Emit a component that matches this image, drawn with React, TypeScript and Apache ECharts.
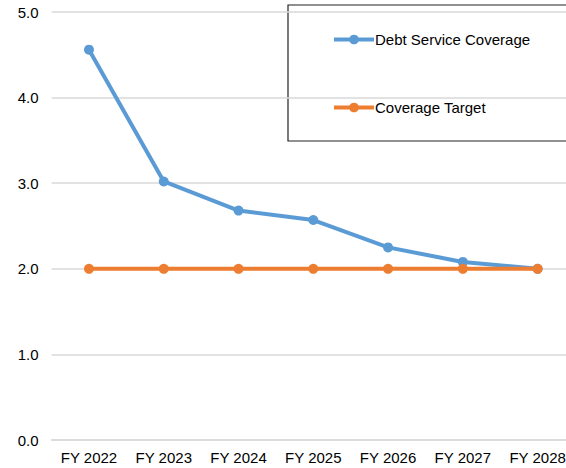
import React, { useEffect, useRef } from "react";
import * as echarts from "echarts";

const categories = ["FY 2022", "FY 2023", "FY 2024", "FY 2025", "FY 2026", "FY 2027", "FY 2028"];
const debtServiceCoverage = [4.56, 3.02, 2.68, 2.57, 2.25, 2.08, 2.0];
const coverageTarget = [2.0, 2.0, 2.0, 2.0, 2.0, 2.0, 2.0];

export default function App() {
  const ref = useRef<HTMLDivElement>(null);
  useEffect(() => {
    if (!ref.current) return;
    const chart = echarts.init(ref.current, null, { renderer: "svg" });
    const font = "Liberation Sans, Arial, sans-serif";
    chart.setOption({
      animation: false,
      textStyle: { fontFamily: font },
      grid: { left: 51.6, right: 0, top: 12, bottom: 28, containLabel: false },
      xAxis: {
        type: "category",
        data: categories,
        boundaryGap: true,
        axisLine: { show: true, lineStyle: { color: "#d9d9d9", width: 1.5 } },
        axisTick: { show: false },
        axisLabel: { color: "#000", fontSize: 15, margin: 10, fontFamily: font, interval: 0 },
      },
      yAxis: {
        type: "value",
        min: 0,
        max: 5,
        interval: 1,
        axisLine: { show: false },
        axisTick: { show: false },
        splitLine: { lineStyle: { color: "#d9d9d9", width: 1.5 } },
        axisLabel: {
          color: "#000",
          fontSize: 15,
          margin: 13,
          fontFamily: font,
          formatter: (v: number) => v.toFixed(1),
        },
      },
      legend: {
        orient: "vertical",
        left: 327,
        top: 27,
        itemGap: 53,
        itemWidth: 40,
        itemHeight: 12,
        textStyle: { color: "#000", fontSize: 15, fontFamily: font, padding: [0, 0, 0, -4] },
        lineStyle: { width: 4 },
        data: ["Debt Service Coverage", "Coverage Target"],
      },
      graphic: [
        {
          type: "rect",
          shape: { x: 288, y: 5, width: 300, height: 136 },
          style: { fill: "#fff", stroke: "#222", lineWidth: 1.2 },
          z: -1,
          silent: true,
        },
      ],
      series: [
        {
          name: "Debt Service Coverage",
          type: "line",
          data: debtServiceCoverage,
          symbol: "circle",
          symbolSize: 10,
          itemStyle: { color: "#5B9BD5" },
          lineStyle: { color: "#5B9BD5", width: 4 },
          z: 3,
        },
        {
          name: "Coverage Target",
          type: "line",
          data: coverageTarget,
          symbol: "circle",
          symbolSize: 10,
          itemStyle: { color: "#ED7D31" },
          lineStyle: { color: "#ED7D31", width: 4 },
          z: 4,
        },
      ],
    });
    return () => chart.dispose();
  }, []);
  return (
    <div style={{ position: "absolute", left: 0, top: 0, width: 566, height: 468, overflow: "hidden", background: "#fff" }}>
      <div ref={ref} style={{ width: 575.4, height: 468 }} />
    </div>
  );
}
